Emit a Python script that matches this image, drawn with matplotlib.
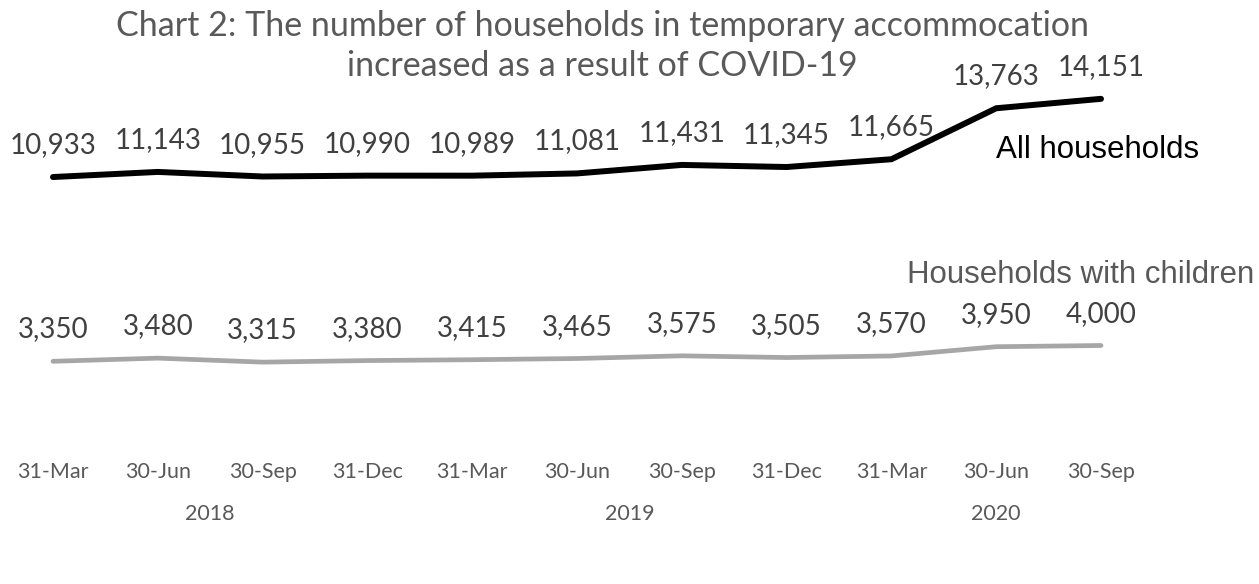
import matplotlib
matplotlib.use('Agg')
import matplotlib.pyplot as plt

# quarter-end dates and years
quarters = ['31-Mar', '30-Jun', '30-Sep', '31-Dec', '31-Mar', '30-Jun',
            '30-Sep', '31-Dec', '31-Mar', '30-Jun', '30-Sep']
years = ['2018', '2019', '2020']
year_groups = [(0, 3), (4, 7), (8, 10)]

all_households = [10933, 11143, 10955, 10990, 10989, 11081, 11431, 11345, 11665, 13763, 14151]
with_children = [3350, 3480, 3315, 3380, 3415, 3465, 3575, 3505, 3570, 3950, 4000]

label_font = 'Lato'
grey_text = '#595959'

fig = plt.figure(figsize=(12.59, 5.84), dpi=100)
ax = fig.add_axes([0, 0, 1, 1])
x = list(range(len(quarters)))

ax.plot(x, all_households, color='#000000', lw=4.3, solid_capstyle='round', solid_joinstyle='miter')
ax.plot(x, with_children, color='#A6A6A6', lw=3.4, solid_capstyle='round', solid_joinstyle='miter')

for i, v in enumerate(all_households):
    ax.annotate(f'{v:,}', (i, v), xytext=(0, 23), textcoords='offset points',
                ha='center', va='center', fontsize=20, color='#404040', family=label_font)
for i, v in enumerate(with_children):
    ax.annotate(f'{v:,}', (i, v), xytext=(0, 23), textcoords='offset points',
                ha='center', va='center', fontsize=20, color='#404040', family=label_font)

# pixel mapping of the original chart
ax.set_xlim(-53 / 104.8, (1259 - 53) / 104.8)
ax.set_ylim((442.7 - 584) / 0.0243, 442.7 / 0.0243)
ax.axis('off')

tr = ax.get_xaxis_transform()
for i, q in enumerate(quarters):
    ax.text(i, 1 - 472 / 584, q, transform=tr, ha='center', va='center',
            fontsize=15.5, color=grey_text, family=label_font)
for yr, (a, b) in zip(years, year_groups):
    ax.text((a + b) / 2, 1 - 514 / 584, yr, transform=tr, ha='center', va='center',
            fontsize=15.5, color=grey_text, family=label_font)

ax.text(10.935, 12045, 'All households', ha='right', va='center', fontsize=22.5,
        color='#000000', family='Liberation Sans')
ax.text(11.46, 6901, 'Households with children', ha='right', va='center', fontsize=22.5,
        color=grey_text, family='Liberation Sans')

fig.text(602 / 1259, 1 - 26 / 584, 'Chart 2: The number of households in temporary accommocation',
         ha='center', va='center', fontsize=24.5, color=grey_text, family=label_font)
fig.text(602 / 1259, 1 - 66 / 584, 'increased as a result of COVID-19',
         ha='center', va='center', fontsize=24.5, color=grey_text, family=label_font)

plt.savefig('out.png', dpi=100)
